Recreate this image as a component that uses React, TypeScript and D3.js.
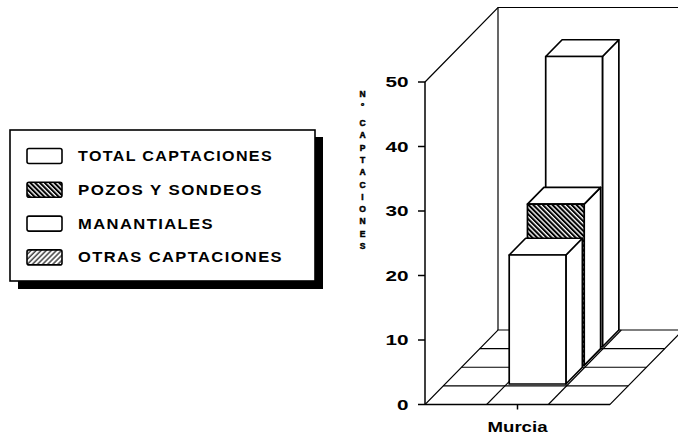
import React from "react"
import * as d3 from "d3"

// data
const categories = [ "Murcia" ]
const seriesNames = [ "TOTAL CAPTACIONES", "POZOS Y SONDEOS", "MANANTIALES", "OTRAS CAPTACIONES" ]
const murciaValues = [ 45, 25, 20, 0 ]
const seriesFills = [ "plain", "back", "plain", "fwd" ]
const yTicks = [ 0, 10, 20, 30, 40, 50 ]
const yTitle = "Nº CAPTACIONES"

const W = 678
const H = 441
const FONT = "'Liberation Sans', Arial, Helvetica, sans-serif"

// floor has 3 columns, the single category sits in the middle one; 4 depth rows (one per series)
const nCols = 3
const nRows = 4
const catCol = 1

const colX = d3.scaleLinear().domain( [ 0, nCols ] ).range( [ 425, 610 ] )
const yV = d3.scaleLinear().domain( [ 0, 50 ] ).range( [ 404.5, 82 ] )
const depthX = d3.scaleLinear().domain( [ 0, nRows ] ).range( [ 0, 73 ] )
const depthY = d3.scaleLinear().domain( [ 0, nRows ] ).range( [ 0, -74.5 ] )

const proj = ( c: number, z: number, v: number ): [ number, number ] => [
  colX( c ) + depthX( z ),
  yV( v ) + depthY( z )
]

const poly = ( pts: [ number, number ][] ) => d3.line()( pts ) + "Z"

const fillFor = ( f: string ) =>
  f === "back" ? "url(#hatchBack)" : f === "fwd" ? "url(#hatchFwd)" : "#fff"

const Bar = ( { i, v }: { i: number, v: number } ) => {
  if ( !v ) return null
  const r = nRows - 1 - i
  const z0 = r + 0.1
  const z1 = r + 1
  const c0 = catCol + 0.04
  const c1 = catCol + 0.96
  const front = poly( [ proj( c0, z0, 0 ), proj( c1, z0, 0 ), proj( c1, z0, v ), proj( c0, z0, v ) ] )
  const top = poly( [ proj( c0, z0, v ), proj( c1, z0, v ), proj( c1, z1, v ), proj( c0, z1, v ) ] )
  const side = poly( [ proj( c1, z0, 0 ), proj( c1, z1, 0 ), proj( c1, z1, v ), proj( c1, z0, v ) ] )
  return (
    <g stroke="#000" strokeWidth={ 1.7 } strokeLinejoin="round">
      <path d={ side } fill="#fff" />
      <path d={ top } fill="#fff" />
      <path d={ front } fill={ fillFor( seriesFills[ i ] ) } />
    </g>
  )
}

export default function App() {
  const floor = poly( [ proj( 0, 0, 0 ), proj( nCols, 0, 0 ), proj( nCols, nRows, 0 ), proj( 0, nRows, 0 ) ] )
  const legendY = ( i: number ) => 156 + i * 33.8
  const legendLen = [ 195, 185, 136, 205 ]
  const titleChars = yTitle.split( "" ).filter( ch => ch !== " " )

  return (
    <svg width={ W } height={ H } style={ { position: "absolute", left: 0, top: 0, background: "#fff" } }
      fontFamily={ FONT }>
      <defs>
        <pattern id="hatchBack" patternUnits="userSpaceOnUse" width={ 3.4 } height={ 10 }
          patternTransform="rotate(-45)">
          <rect width={ 3.4 } height={ 10 } fill="#fff" />
          <line x1={ 1 } y1={ 0 } x2={ 1 } y2={ 10 } stroke="#000" strokeWidth={ 2.1 } />
        </pattern>
        <pattern id="hatchFwd" patternUnits="userSpaceOnUse" width={ 3.6 } height={ 10 }
          patternTransform="rotate(45)">
          <rect width={ 3.6 } height={ 10 } fill="#fff" />
          <line x1={ 1 } y1={ 0 } x2={ 1 } y2={ 10 } stroke="#000" strokeWidth={ 1.1 } />
        </pattern>
      </defs>

      {/* legend */}
      <rect x={ 18 } y={ 137 } width={ 305 } height={ 152 } fill="#000" />
      <rect x={ 10 } y={ 130 } width={ 305 } height={ 151 } fill="#fff" stroke="#000" strokeWidth={ 1.6 } />
      { seriesNames.map( ( name, i ) => (
        <g key={ name }>
          <rect x={ 27 } y={ legendY( i ) - 7.5 } width={ 35 } height={ 15 } rx={ 2 }
            fill={ fillFor( seriesFills[ i ] ) } stroke="#000" strokeWidth={ 1.6 } />
          <text x={ 78 } y={ legendY( i ) + 5 } fontSize={ 14 } fontWeight="bold" letterSpacing={ 1.2 }
            textLength={ legendLen[ i ] } lengthAdjust="spacingAndGlyphs">{ name }</text>
        </g>
      ) ) }

      {/* walls */}
      <g stroke="#000" strokeWidth={ 1.2 } fill="none">
        <path d={ d3.line()( [ proj( 0, 0, 50 ), proj( 0, nRows, 50 ), proj( nCols + 1, nRows, 50 ) ] ) } />
        <path d={ d3.line()( [ proj( 0, nRows, 50 ), proj( 0, nRows, 0 ) ] ) } />
        <path d={ d3.line()( [ proj( nCols, nRows, 0 ), proj( nCols, nRows, 50 ) ] ) } />
      </g>

      {/* floor */}
      <g stroke="#000" strokeWidth={ 1.1 } fill="none">
        <path d={ floor } fill="#fff" />
        { d3.range( 1, nRows ).map( z => (
          <path key={ "r" + z } d={ d3.line()( [ proj( 0, z, 0 ), proj( nCols, z, 0 ) ] ) } />
        ) ) }
        { d3.range( 1, nCols ).map( c => (
          <path key={ "c" + c } d={ d3.line()( [ proj( c, 0, 0 ), proj( c, nRows, 0 ) ] ) } />
        ) ) }
      </g>

      {/* bars, back to front */}
      { murciaValues.map( ( v, i ) => <Bar key={ i } i={ i } v={ v } /> ) }

      {/* value axis */}
      <g stroke="#000" strokeWidth={ 1.5 }>
        <line x1={ colX( 0 ) } x2={ colX( 0 ) } y1={ yV( 0 ) } y2={ yV( 50 ) } />
        <line x1={ colX( 0 ) } x2={ colX( nCols ) } y1={ yV( 0 ) } y2={ yV( 0 ) } />
        { yTicks.map( t => (
          <line key={ t } x1={ colX( 0 ) - 7 } x2={ colX( 0 ) } y1={ yV( t ) } y2={ yV( t ) } />
        ) ) }
        { categories.map( ( c, k ) => (
          <line key={ c } x1={ colX( catCol + k + 0.5 ) } x2={ colX( catCol + k + 0.5 ) }
            y1={ yV( 0 ) } y2={ yV( 0 ) + 5 } />
        ) ) }
      </g>
      { yTicks.map( t => (
        <text key={ t } x={ 408.5 } y={ yV( t ) + 5 } textAnchor="end" fontSize={ 14 } fontWeight="bold"
          textLength={ String( t ).length * 11.5 } lengthAdjust="spacingAndGlyphs">{ t }</text>
      ) ) }
      { categories.map( ( c, k ) => (
        <text key={ c } x={ colX( catCol + k + 0.5 ) - 30 } y={ 432 } fontSize={ 14 }
          fontWeight="bold" textLength={ 60 } lengthAdjust="spacingAndGlyphs">{ c }</text>
      ) ) }

      {/* stacked axis title */}
      <g fontSize={ 8.5 } fontWeight="bold" textAnchor="middle" stroke="#000" strokeWidth={ 0.5 }>
        <text x={ 362.5 } y={ 97 }>{ titleChars[ 0 ] }</text>
        <text x={ 362.5 } y={ 109 }>{ titleChars[ 1 ] }</text>
        { titleChars.slice( 2 ).map( ( ch, k ) => (
          <text key={ k } x={ 362.5 } y={ 126 + k * 12.3 }>{ ch }</text>
        ) ) }
      </g>
    </svg>
  )
}
